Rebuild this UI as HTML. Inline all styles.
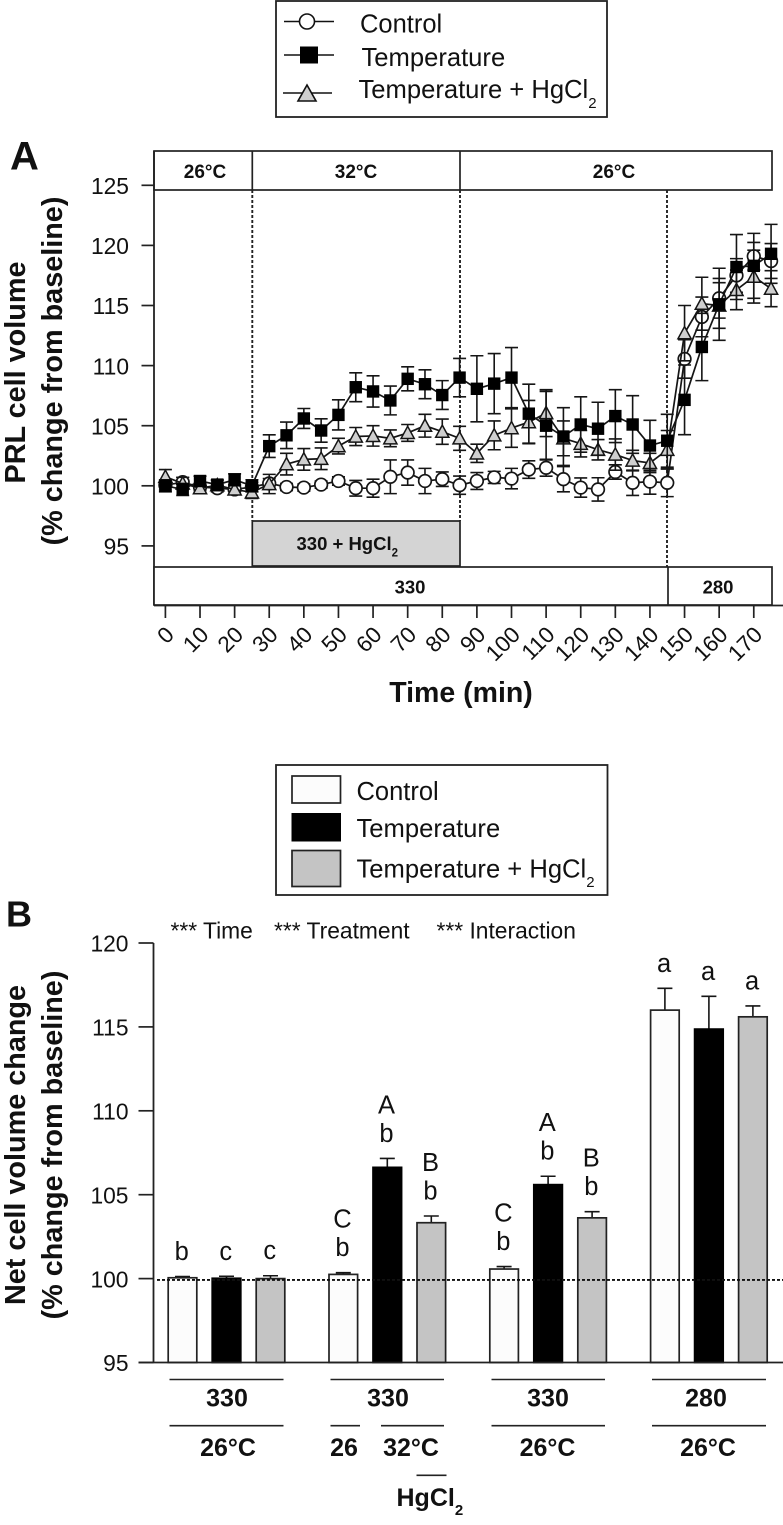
<!DOCTYPE html>
<html lang="en">
<head>
<meta charset="utf-8">
<title>PRL cell volume chart</title>
<style>
html,body{margin:0;padding:0;background:#fff;}
svg{display:block;}
text{font-family:"Liberation Sans",Arial,sans-serif;fill:#111;}
.b{font-weight:bold;}
</style>
</head>
<body>
<svg id="fig" xmlns="http://www.w3.org/2000/svg" width="783" height="1525" viewBox="0 0 783 1525">
  <rect x="0" y="0" width="783" height="1525" fill="#fff"/>

  <!-- Legend A -->
  <g>
    <rect x="276" y="1" width="331" height="116" fill="#fff" stroke="#222" stroke-width="1.8"/>
    <g>
      <line x1="284" y1="21.5" x2="334" y2="21.5" stroke="#111" stroke-width="1.6"/>
      <circle cx="307" cy="21.5" r="7.5" fill="#fff" stroke="#111" stroke-width="1.6"/>
      <text x="360" y="32.5" font-size="25.5">Control</text>
    </g>
    <g>
      <line x1="284" y1="55" x2="334" y2="55" stroke="#111" stroke-width="1.6"/>
      <rect x="300" y="46.5" width="18" height="17" fill="#000"/>
      <text x="361.5" y="66" font-size="25.6">Temperature</text>
    </g>
    <g>
      <line x1="283" y1="93" x2="332" y2="93" stroke="#111" stroke-width="1.6"/>
      <polygon points="298,101 316,101 307,85" fill="#cfcfcf" stroke="#111" stroke-width="1.6"/>
      <text x="358.5" y="98" font-size="25.6">Temperature + HgCl<tspan dy="10" font-size="15">2</tspan></text>
    </g>
  </g>

  <text x="10" y="169.5" font-size="40" class="b">A</text>

  <!-- Panel A static frame -->
  <g>
    <rect x="154" y="151" width="618" height="39" fill="#fff" stroke="#222" stroke-width="1.7"/>
    <line x1="252.3" y1="151" x2="252.3" y2="190" stroke="#222" stroke-width="1.7"/>
    <line x1="460" y1="151" x2="460" y2="190" stroke="#222" stroke-width="1.7"/>
    <text x="205" y="178" font-size="19" class="b" text-anchor="middle">26°C</text>
    <text x="356" y="178" font-size="19" class="b" text-anchor="middle">32°C</text>
    <text x="614" y="178" font-size="19" class="b" text-anchor="middle">26°C</text>
    <line x1="154" y1="151" x2="154" y2="605" stroke="#222" stroke-width="1.8"/>
    <line x1="252.3" y1="190" x2="252.3" y2="521" stroke="#222" stroke-width="1.9" stroke-dasharray="3 2"/>
    <line x1="460" y1="190" x2="460" y2="521" stroke="#222" stroke-width="1.9" stroke-dasharray="3 2"/>
    <line x1="667" y1="190" x2="667" y2="567" stroke="#222" stroke-width="1.9" stroke-dasharray="3 2"/>
    <rect x="252.3" y="521" width="207.7" height="45" fill="#d4d4d4" stroke="#222" stroke-width="1.7"/>
    <text x="296.5" y="550" font-size="18.5" class="b">330 + HgCl<tspan dy="6.5" font-size="11.5">2</tspan></text>
    <rect x="154" y="567" width="618" height="38" fill="#fff" stroke="#222" stroke-width="1.7"/>
    <line x1="668" y1="567" x2="668" y2="605" stroke="#222" stroke-width="1.7"/>
    <text x="410" y="593.5" font-size="18.5" class="b" text-anchor="middle">330</text>
    <text x="718" y="593.5" font-size="18.5" class="b" text-anchor="middle">280</text>
    <line x1="154" y1="605.5" x2="783" y2="605.5" stroke="#222" stroke-width="1.8"/>
  </g>
  <g id="chartA"></g>

  <text transform="translate(25,372.5) rotate(-90)" font-size="28.8" class="b" text-anchor="middle">PRL cell volume</text>
  <text transform="translate(62,371) rotate(-90)" font-size="28.8" class="b" text-anchor="middle">(% change from baseline)</text>
  <text x="461" y="702" font-size="28.5" class="b" text-anchor="middle">Time (min)</text>

  <!-- Legend B -->
  <g>
    <rect x="276" y="765" width="331.5" height="130" fill="#fff" stroke="#222" stroke-width="1.8"/>
    <g>
      <rect x="292" y="776" width="48.5" height="27" fill="#fcfcfc" stroke="#222" stroke-width="1.7"/>
      <text x="356.5" y="800" font-size="25.5">Control</text>
    </g>
    <g>
      <rect x="291.5" y="813" width="49.5" height="28.5" fill="#000"/>
      <text x="356.5" y="837" font-size="25.6">Temperature</text>
    </g>
    <g>
      <rect x="292" y="850.5" width="48.5" height="36" fill="#c4c4c4" stroke="#222" stroke-width="1.7"/>
      <text x="356.5" y="877.5" font-size="25.6">Temperature + HgCl<tspan dy="9.5" font-size="15">2</tspan></text>
    </g>
  </g>

  <text x="6" y="926.5" font-size="36" class="b">B</text>
  <text x="170.5" y="938.5" font-size="22.8">*** Time</text>
  <text x="274" y="938.5" font-size="22.8">*** Treatment</text>
  <text x="436.5" y="938.5" font-size="22.8">*** Interaction</text>

  <text transform="translate(25,1145) rotate(-90)" font-size="28.8" class="b" text-anchor="middle">Net cell volume change</text>
  <text transform="translate(62,1145) rotate(-90)" font-size="28.8" class="b" text-anchor="middle">(% change from baseline)</text>

  <g id="chartB"></g>

  <!-- Panel B condition rows -->
  <g stroke="#222" stroke-width="1.6">
    <line x1="169.5" y1="1379.5" x2="283.5" y2="1379.5"/>
    <line x1="330.5" y1="1379.5" x2="444" y2="1379.5"/>
    <line x1="491.5" y1="1379.5" x2="605" y2="1379.5"/>
    <line x1="652" y1="1379.5" x2="766" y2="1379.5"/>
    <line x1="169.5" y1="1425.7" x2="283.5" y2="1425.7"/>
    <line x1="330.5" y1="1425.7" x2="360" y2="1425.7"/>
    <line x1="381" y1="1425.7" x2="444" y2="1425.7"/>
    <line x1="491.5" y1="1425.7" x2="605" y2="1425.7"/>
    <line x1="652" y1="1425.7" x2="766" y2="1425.7"/>
    <line x1="416.5" y1="1475.3" x2="446.5" y2="1475.3"/>
  </g>
  <g font-size="25" text-anchor="middle">
    <text x="227" y="1406.5" class="b">330</text>
    <text x="388" y="1406.5" class="b">330</text>
    <text x="548" y="1406.5" class="b">330</text>
    <text x="706" y="1406.5" class="b">280</text>
    <text x="228" y="1456" class="b">26°C</text>
    <text x="344" y="1456" class="b">26</text>
    <text x="411" y="1456" class="b">32°C</text>
    <text x="547.5" y="1456" class="b">26°C</text>
    <text x="708" y="1456" class="b">26°C</text>
    <text x="396.5" y="1506" class="b" text-anchor="start">HgCl<tspan dy="9" font-size="15">2</tspan></text>
  </g>
</svg>

<script>
// ---------- Panel A data ----------
var times = [0,5,10,15,20,25,30,35,40,45,50,55,60,65,70,75,80,85,90,95,100,105,110,115,120,125,130,135,140,145,150,155,160,165,170,175];
var xTickLabelsA = [0,10,20,30,40,50,60,70,80,90,100,110,120,130,140,150,160,170];
var yTickLabelsA = [95,100,105,110,115,120,125];
var controlValues = [100.05,100.3,99.9,99.8,99.7,99.9,100.2,99.9,99.85,100.1,100.4,99.8,99.8,100.75,101.1,100.4,100.55,100.05,100.4,100.7,100.6,101.35,101.5,100.55,99.85,99.7,101.15,100.25,100.35,100.25,110.55,114.05,115.6,117.5,119.1,118.7];
var controlErrors = [0.4,0.4,0.3,0.3,0.4,0.4,0.4,0.3,0.3,0.3,0.35,0.65,0.75,1.4,1.05,1.05,0.6,0.76,0.7,0.5,0.85,0.73,0.7,1.05,0.8,0.97,0.6,1.05,1.05,1.15,1.6,1.65,1.65,1.4,1.15,1.45];
var temperatureValues = [100,99.7,100.4,100.1,100.5,100,103.3,104.2,105.6,104.6,105.9,108.2,107.85,107.1,108.9,108.45,107.55,109,108.07,108.5,109,106,105,104.1,105.1,104.75,105.8,105.1,103.35,103.75,107.15,111.55,115.1,118.2,118.3,119.3];
var temperatureErrors = [0.5,0.5,0.4,0.4,0.5,0.5,0.94,1.1,0.83,0.97,1.25,1.2,1.3,1.2,1,1.2,1.2,1.6,2.75,2.5,2.5,2.45,2.85,2.4,2.3,2.2,2.2,2.4,2.1,2.2,2.9,2.8,3,2.7,2.7,2.45];
var hgcl2Values = [100.75,100.2,99.8,100.05,99.7,99.45,100.15,101.8,102.2,102.25,103.3,104.1,104.15,103.95,104.4,105,104.5,103.95,102.7,104.2,104.8,105.3,106.05,103.95,103.5,103,102.6,102.1,101.9,103,112.7,115.15,115,116.3,117.4,116.4];
var hgcl2Errors = [0.6,0.5,0.4,0.4,0.4,0.5,0.8,0.9,0.9,0.9,0.65,0.75,0.85,0.7,0.7,0.95,1.05,1,0.76,1.2,1.6,1.8,1.95,1.45,1.1,0.85,1.3,0.85,0.8,1.6,2.3,2.2,1.9,1.65,2.2,1.5];

// ---------- Panel B data ----------
var yTickLabelsB = [95,100,105,110,115,120];
var barControl = [100.05,100.25,100.57,116];
var barControlErr = [0.07,0.1,0.15,1.3];
var barTemperature = [100.02,106.63,105.6,114.87];
var barTemperatureErr = [0.12,0.53,0.5,1.95];
var barHgcl2 = [100,103.33,103.62,115.6];
var barHgcl2Err = [0.17,0.4,0.37,0.65];
var lowerLettersControl = ['b','b','b','a'];
var lowerLettersTemperature = ['c','b','b','a'];
var lowerLettersHgcl2 = ['c','b','b','a'];
var upperLettersControl = ['','C','C',''];
var upperLettersTemperature = ['','A','A',''];
var upperLettersHgcl2 = ['','B','B',''];

var NS = 'http://www.w3.org/2000/svg';
function add(parent, tag, attrs, txt) {
  var el = document.createElementNS(NS, tag);
  for (var k in attrs) el.setAttribute(k, attrs[k]);
  if (txt !== undefined) el.textContent = txt;
  parent.appendChild(el);
  return el;
}

// axis functions
function xA(t) { return 165.4 + 3.461 * t; }
function yA(v) { return 485.8 - (v - 100) * 12.02; }
function xB(group, idx) { return 182.5 + 160.8 * group + 44 * idx; }
function yB(v) { return 1278.6 - (v - 100) * 16.78; }

var INK = '#151515';
var chartA = document.getElementById('chartA');
var chartB = document.getElementById('chartB');

// Panel A ticks
yTickLabelsA.forEach(function (v) {
  var t = add(chartA, 'line', {x1: 141.5, x2: 154, y1: yA(v), y2: yA(v), stroke: '#222', 'stroke-width': 1.7});
  
  
  var l = add(chartA, 'text', {x: 129, y: yA(v) + 8.7, 'font-size': 22.8, 'text-anchor': 'end'}, String(v));
  
  
});
xTickLabelsA.forEach(function (v) {
  var t = add(chartA, 'line', {x1: xA(v), x2: xA(v), y1: 605.5, y2: 618, stroke: '#222', 'stroke-width': 1.7});
  
  
  var px = xA(v) + 10, py = 636;
  var l = add(chartA, 'text', {x: 0, y: 0, 'font-size': 22.5, 'text-anchor': 'end', transform: 'translate(' + px + ',' + py + ') rotate(-45)'}, String(v));
  
  
});

// Panel A series
function drawErrors(g, values, errors) {
  times.forEach(function (t, i) {
    var x = xA(t), top = yA(values[i] + errors[i]), bot = yA(values[i] - errors[i]);
    var e = add(g, 'path', {d: 'M' + (x - 6.5) + ' ' + top + 'H' + (x + 6.5) + 'M' + x + ' ' + top + 'V' + bot + 'M' + (x - 6.5) + ' ' + bot + 'H' + (x + 6.5),
      fill: 'none', stroke: INK, 'stroke-width': 1.6});
    
    
  });
}
function drawLine(g, values) {
  var pts = times.map(function (t, i) { return xA(t) + ',' + yA(values[i]); }).join(' ');
  var pl = add(g, 'polyline', {points: pts, fill: 'none', stroke: INK, 'stroke-width': 1.7});
  
  
}

var gControl = add(chartA, 'g', {});


drawErrors(gControl, controlValues, controlErrors);
drawLine(gControl, controlValues);
times.forEach(function (t, i) {
  var m = add(gControl, 'circle', {cx: xA(t), cy: yA(controlValues[i]), r: 6.3, fill: '#fff', stroke: INK, 'stroke-width': 1.7});
  
  
});

var gHg = add(chartA, 'g', {});


drawErrors(gHg, hgcl2Values, hgcl2Errors);
drawLine(gHg, hgcl2Values);
times.forEach(function (t, i) {
  var x = xA(t), y = yA(hgcl2Values[i]);
  var m = add(gHg, 'polygon', {points: (x - 6.6) + ',' + (y + 5.6) + ' ' + (x + 6.6) + ',' + (y + 5.6) + ' ' + x + ',' + (y - 6.6), fill: '#cfcfcf', stroke: INK, 'stroke-width': 1.5});
  
  
});

var gTemp = add(chartA, 'g', {});


drawErrors(gTemp, temperatureValues, temperatureErrors);
drawLine(gTemp, temperatureValues);
times.forEach(function (t, i) {
  var m = add(gTemp, 'rect', {x: xA(t) - 6.2, y: yA(temperatureValues[i]) - 6.2, width: 12.4, height: 12.4, fill: '#000'});
  
  
});

// Panel B axes
var yAxisB = add(chartB, 'line', {x1: 153.5, x2: 153.5, y1: yB(120), y2: yB(95), stroke: '#222', 'stroke-width': 1.8});


yTickLabelsB.forEach(function (v) {
  var t = add(chartB, 'line', {x1: 138.5, x2: 153.5, y1: yB(v), y2: yB(v), stroke: '#222', 'stroke-width': 1.7});
  
  
  var l = add(chartB, 'text', {x: 128.5, y: yB(v) + 8.7, 'font-size': 22.8, 'text-anchor': 'end'}, String(v));
  
  
});

// Panel B bars
function drawBars(values, errors, idx, fill, strokeCol, name, lower, upper) {
  values.forEach(function (v, g) {
    var cx = xB(g, idx), top = yB(v), base = yB(95), errTop = yB(v + errors[g]);
    var e = add(chartB, 'path', {d: 'M' + (cx - 7.5) + ' ' + errTop + 'H' + (cx + 7.5) + 'M' + cx + ' ' + errTop + 'V' + top, fill: 'none', stroke: INK, 'stroke-width': 1.6});
    
    
    var r = add(chartB, 'rect', {x: cx - 14.3, y: top, width: 28.6, height: base - top, fill: fill, stroke: strokeCol, 'stroke-width': 1.7});
    
    
    var lo = add(chartB, 'text', {x: cx - 0.8, y: errTop - 16.5, 'font-size': 25.5, 'text-anchor': 'middle'}, lower[g]);
    
    
    if (upper[g]) {
      var up = add(chartB, 'text', {x: cx - 0.8, y: errTop - 45, 'font-size': 25.5, 'text-anchor': 'middle'}, upper[g]);
      
      
    }
  });
}
drawBars(barControl, barControlErr, 0, '#fcfcfc', '#222', 'bar-control', lowerLettersControl, upperLettersControl);
drawBars(barTemperature, barTemperatureErr, 1, '#000', '#000', 'bar-temperature', lowerLettersTemperature, upperLettersTemperature);
drawBars(barHgcl2, barHgcl2Err, 2, '#c4c4c4', '#222', 'bar-temperature-hgcl2', lowerLettersHgcl2, upperLettersHgcl2);

var xAxisB = add(chartB, 'line', {x1: 138.5, x2: 783, y1: yB(95), y2: yB(95), stroke: '#222', 'stroke-width': 1.8});


var refLine = add(chartB, 'line', {x1: 157, x2: 783, y1: yB(100) + 1.3, y2: yB(100) + 1.3, stroke: '#111', 'stroke-width': 1.9, 'stroke-dasharray': '3 2'});


</script>
</body>
</html>
